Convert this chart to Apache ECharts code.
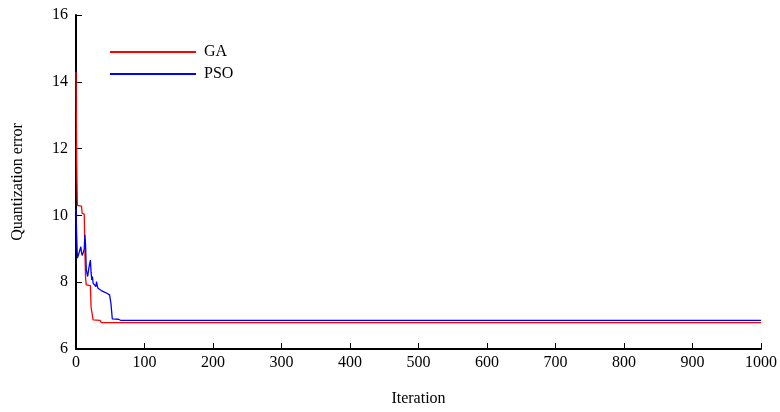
<!DOCTYPE html>
<html>
<head>
<meta charset="utf-8">
<script src="https://cdn.jsdelivr.net/npm/echarts@6/dist/echarts.min.js"></script>
<style>
  html, body { margin: 0; padding: 0; background: #fff; }
  #main { width: 780px; height: 412px; }
</style>
</head>
<body>
<div id="main"></div>
<script>
// GA convergence curve (iteration, quantization error)
var gaIter = [0, 1, 2, 8, 9, 12, 13, 14, 15, 21, 22, 24, 25, 35, 37, 1000];
var gaErr = [14.3, 11.6, 10.3, 10.28, 10.06, 10.04, 8.9, 8.12, 7.92, 7.9, 7.25, 7.22, 6.87, 6.86, 6.79, 6.79];

// PSO convergence curve
var psoIter = [0, 1, 2, 4, 5, 7, 8, 9, 11, 12, 13, 14, 15, 17, 19, 21, 22, 23, 24, 25, 27, 29, 30, 31, 32, 34, 37, 40, 45, 49, 51, 53, 62, 65, 1000];
var psoErr = [10.2, 9.4, 8.72, 8.85, 8.81, 9.06, 8.9, 8.8, 8.91, 9.0, 9.42, 9.1, 8.37, 8.17, 8.45, 8.66, 8.3, 8.07, 8.17, 7.97, 7.92, 7.87, 8.02, 7.9, 7.82, 7.77, 7.75, 7.72, 7.67, 7.62, 7.37, 6.9, 6.89, 6.86, 6.86];

var xTicks = [0, 100, 200, 300, 400, 500, 600, 700, 800, 900, 1000];
var yTicks = [6, 8, 10, 12, 14, 16];

function pairs(xs, ys) {
    return xs.map(function (x, i) { return [x, ys[i]]; });
}

var font = 'Liberation Serif';
var chart = echarts.init(document.getElementById('main'));

chart.setOption({
    animation: false,
    grid: { left: 76, right: 18, top: 15, bottom: 63 },
    legend: {
        orient: 'vertical',
        left: 105,
        top: 39,
        itemWidth: 86,
        itemHeight: 2,
        itemGap: 6,
        icon: 'rect',
        textStyle: { fontFamily: font, fontSize: 16, color: '#000', padding: [0, 0, 0, 3] },
        data: ['GA', 'PSO']
    },
    xAxis: {
        type: 'value',
        min: xTicks[0],
        max: xTicks[xTicks.length - 1],
        interval: 100,
        name: 'Iteration',
        nameLocation: 'middle',
        nameGap: 42,
        nameTextStyle: { fontFamily: font, fontSize: 16, color: '#000' },
        axisLine: { lineStyle: { color: '#000', width: 2 } },
        axisTick: { inside: true, length: 6, lineStyle: { color: '#000', width: 1 } },
        axisLabel: { fontFamily: font, fontSize: 16, color: '#000', margin: 6, formatter: function (v) { return String(v); } },
        splitLine: { show: false }
    },
    yAxis: {
        type: 'value',
        min: yTicks[0],
        max: yTicks[yTicks.length - 1],
        interval: 2,
        name: 'Quantization error',
        nameLocation: 'middle',
        nameGap: 50,
        nameTextStyle: { fontFamily: font, fontSize: 16, color: '#000' },
        axisLine: { show: true, lineStyle: { color: '#000', width: 2 } },
        axisTick: { show: true, inside: true, length: 6, lineStyle: { color: '#000', width: 1 } },
        axisLabel: { fontFamily: font, fontSize: 16, color: '#000', margin: 8 },
        splitLine: { show: false }
    },
    series: [
        {
            name: 'GA',
            type: 'line',
            data: pairs(gaIter, gaErr),
            showSymbol: false,
            symbol: 'none',
            lineStyle: { color: '#ff0000', width: 1.3 },
            itemStyle: { color: '#ff0000' }
        },
        {
            name: 'PSO',
            type: 'line',
            data: pairs(psoIter, psoErr),
            showSymbol: false,
            symbol: 'none',
            lineStyle: { color: '#0000ff', width: 1.3 },
            itemStyle: { color: '#0000ff' }
        }
    ]
});
</script>
</body>
</html>
